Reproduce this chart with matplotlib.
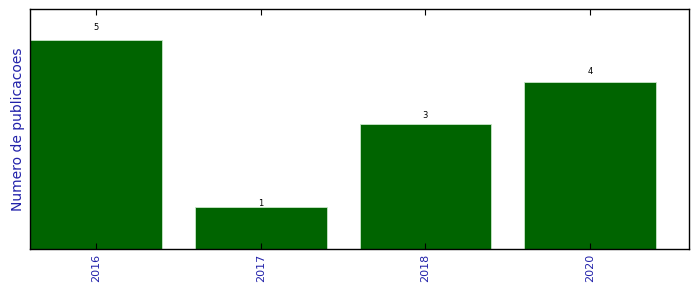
import numpy as np
import matplotlib
matplotlib.use("Agg")
import matplotlib.pyplot as plt

years = ["2016", "2017", "2018", "2020"]
counts = [5, 1, 3, 4]

fig = plt.figure(figsize=(6.99, 2.92), dpi=100)
ax = fig.add_axes([0.043, 0.147, 0.9427, 0.822])

x = np.arange(len(years))
bars = ax.bar(x, counts, width=0.8, color="#006400", edgecolor="#c8e6c8", linewidth=0.6)

# count label just above each bar
for b, c in zip(bars, counts):
    ax.text(b.get_x() + b.get_width() / 2, 1.05 * c - 0.06, str(c),
            ha="center", va="bottom", fontsize=6)

ax.set_xlim(-0.4, 3.6)
ax.set_ylim(0, 5.74)
ax.set_xticks(x)
ax.set_xticklabels(years, rotation=90, color="#2222aa", fontsize=8)
ax.set_yticks([])
ax.tick_params(axis="x", direction="in", top=True, length=4, width=0.8)
ax.set_ylabel("Numero de publicacoes", color="#2222aa", fontsize=10)
for s in ax.spines.values():
    s.set_linewidth(1.0)

fig.savefig("out.png", dpi=100)
